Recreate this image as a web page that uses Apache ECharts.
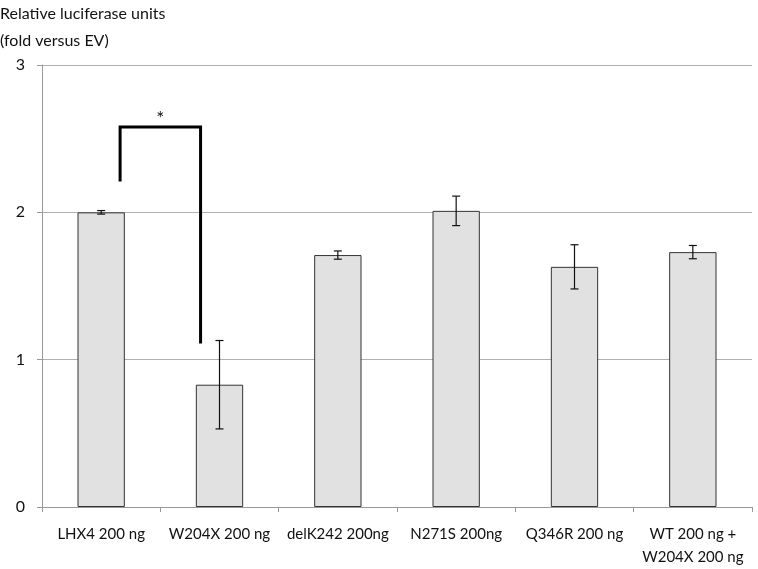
<!DOCTYPE html>
<html><head><meta charset="utf-8">
<script src="https://cdn.jsdelivr.net/npm/echarts@6/dist/echarts.min.js"></script>
<style>html,body{margin:0;padding:0;background:#fff}#c{width:758px;height:569px}</style>
</head><body><div id="c"></div>
<script>
var categories = ['LHX4 200 ng', 'W204X 200 ng', 'delK242 200ng', 'N271S 200ng', 'Q346R 200 ng', 'WT 200 ng +\nW204X 200 ng'];
var values = [2.00, 0.83, 1.71, 2.01, 1.63, 1.73];
var errors = [0.012, 0.30, 0.028, 0.10, 0.15, 0.045];
var yTicks = [0, 1, 2, 3];
// significance bracket: [leftCategory, rightCategory, leftBottom, top, rightBottom]
var bracket = [0, 1, 2.21, 2.58, 1.11];
var bracketLabel = '*';

var font = 'Lato, "Open Sans", sans-serif';
var chart = echarts.init(document.getElementById('c'), null, {renderer: 'canvas'});
chart.setOption({
  animation: false,
  backgroundColor: '#fff',
  title: {
    text: 'Relative luciferase units\n(fold versus EV)',
    left: 0, top: 0, padding: [0, 0, 0, 0],
    textStyle: {fontFamily: font, fontSize: 16, fontWeight: 'normal', color: '#111', lineHeight: 27}
  },
  grid: {left: 42, right: 6, top: 65, bottom: 55, containLabel: false},
  xAxis: {
    type: 'category', data: categories,
    axisLine: {lineStyle: {color: '#999'}},
    axisTick: {show: true, alignWithLabel: false, length: 5, lineStyle: {color: '#999'}},
    axisLabel: {fontFamily: font, fontSize: 15, color: '#111', margin: 16, lineHeight: 23, interval: 0}
  },
  yAxis: {
    type: 'value', min: 0, max: 3, interval: 1,
    axisLine: {show: true, lineStyle: {color: '#999'}},
    axisTick: {show: true, length: 5, lineStyle: {color: '#999'}},
    axisLabel: {fontFamily: font, fontSize: 16, color: '#111', margin: 17,
      formatter: function (v) { return yTicks.indexOf(v) >= 0 ? String(v) : ''; }},
    splitLine: {lineStyle: {color: '#b0b0b0', width: 1}}
  },
  series: [
    {
      type: 'bar', data: values, barWidth: '40%',
      itemStyle: {color: '#e1e1e1', borderColor: '#333', borderWidth: 1}
    },
    {
      type: 'custom',
      data: values.map(function (v, i) { return [i, v - errors[i], v + errors[i]]; }),
      renderItem: function (params, api) {
        var lo = api.coord([api.value(0), api.value(1)]);
        var hi = api.coord([api.value(0), api.value(2)]);
        var w = 4;
        var st = {stroke: '#111', lineWidth: 1.2};
        return {type: 'group', children: [
          {type: 'line', shape: {x1: lo[0], y1: lo[1], x2: hi[0], y2: hi[1]}, style: st},
          {type: 'line', shape: {x1: lo[0] - w, y1: lo[1], x2: lo[0] + w, y2: lo[1]}, style: st},
          {type: 'line', shape: {x1: hi[0] - w, y1: hi[1], x2: hi[0] + w, y2: hi[1]}, style: st}
        ]};
      },
      z: 5
    },
    {
      type: 'custom',
      data: [bracket],
      renderItem: function (params, api) {
        var bw = api.size([1, 0])[0];
        var off = bw * 0.16;
        var a = api.coord([api.value(0), api.value(2)]);
        var at = api.coord([api.value(0), api.value(3)]);
        var b = api.coord([api.value(1), api.value(4)]);
        var x1 = a[0] + off, x2 = b[0] - off;
        var st = {stroke: '#000', lineWidth: 3, fill: null, lineJoin: 'miter'};
        return {type: 'group', children: [
          {type: 'polyline', shape: {points: [[x1, a[1]], [x1, at[1]], [x2, at[1]], [x2, b[1]]]}, style: st},
          {type: 'text', style: {text: bracketLabel, x: (x1 + x2) / 2, y: at[1] - 8, textAlign: 'center', textVerticalAlign: 'middle', fontSize: 19, fontFamily: font, fill: '#111'}}
        ]};
      },
      z: 6
    }
  ]
});
</script>
</body></html>
